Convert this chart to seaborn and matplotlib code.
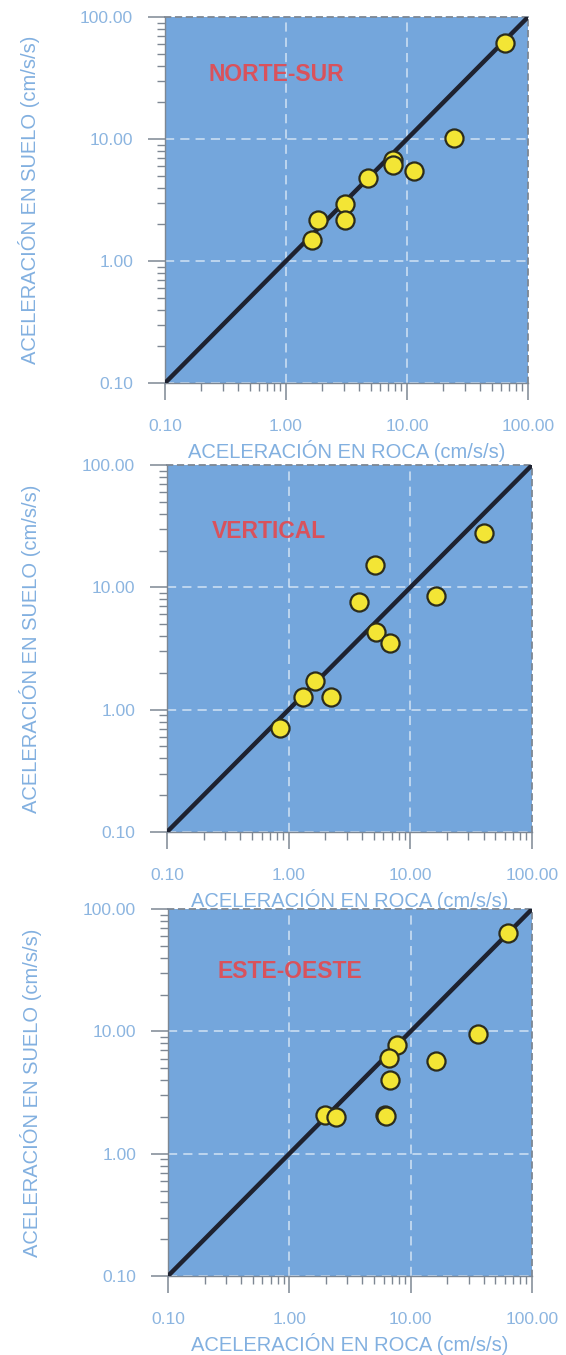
import numpy as np
import pandas as pd
import matplotlib
matplotlib.use("Agg")
import matplotlib.pyplot as plt
import seaborn as sns
from matplotlib.ticker import LogLocator, FixedLocator, FormatStrFormatter, NullFormatter

# ---------------- data ----------------
titles = ["NORTE-SUR", "VERTICAL", "ESTE-OESTE"]

ns_roca = [64.2, 24.5, 7.6, 7.7, 11.5, 4.8, 3.1, 3.1, 1.83, 1.64]
ns_suelo = [61.0, 10.3, 6.8, 6.15, 5.46, 4.78, 2.95, 2.16, 2.16, 1.48]

v_roca = [40.3, 5.1, 16.1, 3.8, 5.2, 6.8, 1.66, 1.31, 2.24, 0.85]
v_suelo = [27.6, 15.2, 8.5, 7.6, 4.3, 3.5, 1.72, 1.27, 1.27, 0.71]

eo_roca = [64.0, 35.6, 7.7, 6.6, 16.1, 6.7, 6.15, 6.25, 1.96, 2.44]
eo_suelo = [63.7, 9.5, 7.8, 6.1, 5.7, 4.0, 2.07, 2.04, 2.06, 1.98]

diag = [0.1, 100.0]
major_ticks = [0.1, 1.0, 10.0, 100.0]

xlabel = "ACELERACIÓN EN ROCA (cm/s/s)"
ylabel = "ACELERACIÓN EN SUELO (cm/s/s)"

# ---------------- style ----------------
sns.set_style("white")
plt.rcParams['font.family'] = ['Liberation Sans', 'DejaVu Sans']

BG = "#74a6dc"
TXT = "#8cb5e0"
LBL = "#82b0e0"
SPINE = "#7d8793"
RED = "#d9525c"

fig = plt.figure(figsize=(5.66, 13.55), dpi=100)
positions = [
    [0.2915, 0.7173, 0.6413, 0.2701],
    [0.2951, 0.3860, 0.6449, 0.2708],
    [0.2968, 0.0583, 0.6431, 0.2708],
]
title_pos = [(0.121, 0.844), (0.123, 0.818), (0.135, 0.830)]
datasets = [(ns_roca, ns_suelo), (v_roca, v_suelo), (eo_roca, eo_suelo)]

for pos, (xr, ys), title, tpos in zip(positions, datasets, titles, title_pos):
    ax = fig.add_axes(pos)
    ax.set_facecolor(BG)
    ax.set_xscale("log")
    ax.set_yscale("log")
    ax.set_xlim(0.1, 100)
    ax.set_ylim(0.1, 100)

    # grid
    for v in [0.1, 1.0, 10.0]:
        ax.axvline(v, color="#e2edf8", lw=1.1, ls=(0, (6, 4)), alpha=0.85, zorder=1)
        ax.axhline(v, color="#e2edf8", lw=1.1, ls=(0, (6, 4)), alpha=0.85, zorder=1)

    df_line = pd.DataFrame({"x": diag, "y": diag})
    sns.lineplot(data=df_line, x="x", y="y", ax=ax, color="#1e2230", lw=3.2,
                 zorder=3, legend=False)
    df_pts = pd.DataFrame({"roca": xr, "suelo": ys})
    sns.scatterplot(data=df_pts, x="roca", y="suelo", ax=ax, s=170,
                    color="#f3e535", edgecolor="#2c2c1c", linewidth=1.6,
                    zorder=4, legend=False, clip_on=False)

    ax.text(tpos[0], tpos[1], title, transform=ax.transAxes, ha="left",
            va="center", color=RED, fontsize=16.5, fontweight="bold", zorder=5)

    # ticks
    for axis in (ax.xaxis, ax.yaxis):
        axis.set_major_locator(FixedLocator(major_ticks))
        axis.set_major_formatter(FormatStrFormatter("%.2f"))
        axis.set_minor_locator(LogLocator(base=10, subs=np.arange(2, 10)))
        axis.set_minor_formatter(NullFormatter())
    ax.tick_params(which="major", length=12, width=1.1, color=SPINE,
                   labelcolor=TXT, labelsize=12.5)
    ax.tick_params(which="minor", length=6, width=1.0, color=SPINE)
    ax.tick_params(axis="x", which="both", bottom=True, top=False)
    ax.tick_params(axis="y", which="both", left=True, right=False)
    ax.tick_params(axis="x", which="major", pad=14)
    ax.tick_params(axis="y", which="major", pad=11)

    for s in ["left", "bottom"]:
        ax.spines[s].set_color(SPINE)
        ax.spines[s].set_linewidth(1.0)
    for s in ["top", "right"]:
        ax.spines[s].set_color(SPINE)
        ax.spines[s].set_linewidth(1.3)
        ax.spines[s].set_linestyle((0, (3, 3)))

    ax.set_xlabel(xlabel, color=LBL, fontsize=14.5)
    ax.set_ylabel(ylabel, color=LBL, fontsize=14.5)
    ax.xaxis.set_label_coords(0.5, -0.155)
    ax.xaxis.label.set_va("top")
    ax.yaxis.set_label_coords(-0.345, 0.5)

fig.savefig("out.png", dpi=100)
